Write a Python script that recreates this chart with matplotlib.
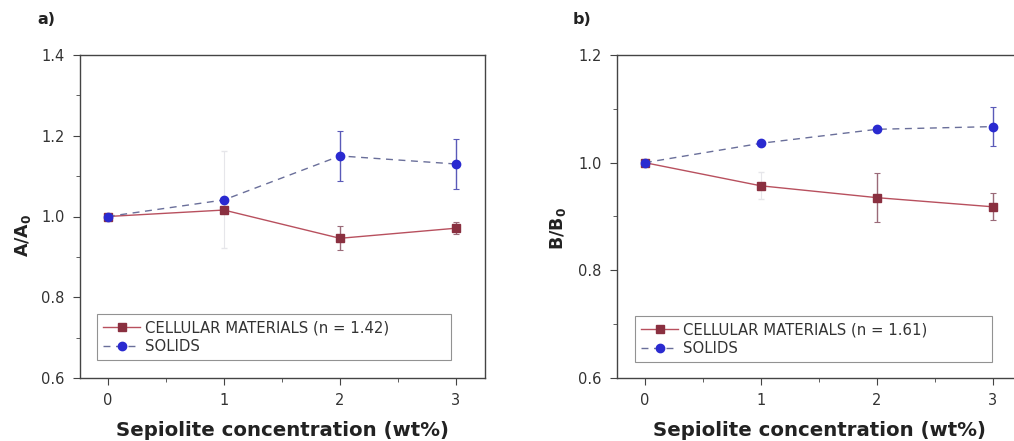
import matplotlib
matplotlib.use("Agg")
import matplotlib.pyplot as plt
from matplotlib.ticker import MultipleLocator, FormatStrFormatter

plt.rcParams['font.family'] = ['DejaVu Sans']

conc = [0, 1, 2, 3]
xticks = [0, 1, 2, 3]

a_cell = [1.0, 1.016, 0.946, 0.971]
a_cell_err = [0.0, 0.0, 0.03, 0.015]
a_sol = [1.0, 1.041, 1.150, 1.130]
a_sol_err = [0.0, 0.12, 0.063, 0.062]

b_cell = [1.0, 0.957, 0.935, 0.918]
b_cell_err = [0.0, 0.025, 0.045, 0.025]
b_sol = [1.0, 1.036, 1.062, 1.067]
b_sol_err = [0.0, 0.0, 0.0, 0.036]

label_cell_a = "CELLULAR MATERIALS (n = 1.42)"
label_cell_b = "CELLULAR MATERIALS (n = 1.61)"
label_sol = "SOLIDS"

W, H = 1014, 441
fig = plt.figure(figsize=(W / 100, H / 100), dpi=100)

cell_line = '#b8505e'
cell_mark = '#8a3040'
sol_line = '#6a6f9a'
sol_mark = '#2a2ad0'


def px(x0, y0, x1, y1):
    return [x0 / W, 1 - y1 / H, (x1 - x0) / W, (y1 - y0) / H]


def draw_err(ax, x, y, e, faint_idx, color):
    strong = [i for i in range(len(x)) if e[i] > 0 and i not in faint_idx]
    faint = [i for i in range(len(x)) if e[i] > 0 and i in faint_idx]
    if strong:
        ax.errorbar([x[i] for i in strong], [y[i] for i in strong], yerr=[e[i] for i in strong],
                    fmt='none', ecolor=color, elinewidth=1.0, capsize=2.5, capthick=0.8, zorder=2)
    if faint:
        ax.errorbar([x[i] for i in faint], [y[i] for i in faint], yerr=[e[i] for i in faint],
                    fmt='none', ecolor='#e6e6ea', elinewidth=0.8, capsize=2.5, capthick=1.0, zorder=1)


def panel(rect, cell, cell_err, cell_faint, sol, sol_err, sol_faint, ylim, ylabel, ylab_xy,
          leg_label, leg_box, tag, tagx):
    ax = fig.add_axes(rect)
    draw_err(ax, conc, cell, cell_err, cell_faint, '#9a6a78')
    draw_err(ax, conc, sol, sol_err, sol_faint, '#5a5ab8')
    ax.plot(conc, cell, color=cell_line, lw=1.0, marker='s', ms=5.5,
            mfc=cell_mark, mec=cell_mark, label=leg_label, zorder=3)
    ax.plot(conc, sol, color=sol_line, lw=1.0, ls=(0, (5, 4)), marker='o', ms=6,
            mfc=sol_mark, mec=sol_mark, label=label_sol, zorder=4)
    ax.set_xlim(-0.24, 3.25)
    ax.set_ylim(*ylim)
    ax.set_xticks(xticks)
    ax.set_yticks([v / 10 for v in range(int(round(ylim[0] * 10)), int(round(ylim[1] * 10)) + 1, 2)])
    ax.xaxis.set_minor_locator(MultipleLocator(0.5))
    ax.yaxis.set_minor_locator(MultipleLocator(0.1))
    ax.yaxis.set_major_formatter(FormatStrFormatter('%.1f'))
    ax.tick_params(which='both', direction='out', top=False, right=False, color='#444444')
    ax.tick_params(which='major', length=5, labelsize=10.5, labelcolor='#333333', pad=6)
    ax.tick_params(which='minor', length=3)
    for s in ax.spines.values():
        s.set_color('#444444')
        s.set_linewidth(1.0)
    ax.set_xlabel('Sepiolite concentration (wt%)', fontsize=14.2, fontweight='bold',
                  color='#222222', labelpad=9)
    ax.set_ylabel(ylabel, fontsize=12.5, fontweight='bold', color='#222222')
    ax.yaxis.set_label_coords(*ylab_xy)
    x0, y0, x1, y1 = leg_box
    bb = ax.transAxes.inverted().transform(fig.transFigure.transform(
        [(x0 / W, 1 - y1 / H), (x1 / W, 1 - y0 / H)]))
    leg = ax.legend(loc='lower left',
                    bbox_to_anchor=(bb[0][0], bb[0][1], bb[1][0] - bb[0][0], bb[1][1] - bb[0][1]),
                    mode='expand', fontsize=10.7, frameon=True, fancybox=False,
                    edgecolor='#777777', borderaxespad=0, handlelength=2.5,
                    handletextpad=0.35, labelspacing=0.25, borderpad=0.4)
    leg.get_frame().set_linewidth(0.8)
    for t in leg.get_texts():
        t.set_color('#333333')
    fig.text(tagx / W, 1 - 20 / H, tag, fontsize=11.5, fontweight='bold', va='center', color='#222222')
    return ax


panel(px(80, 55, 485, 378), a_cell, a_cell_err, [], a_sol, a_sol_err, [1], (0.6, 1.4),
      'A/A$_\\mathbf{0}$', (-0.115, 0.443), label_cell_a, (97, 308, 451, 360), 'a)', 37)
panel(px(617, 55, 1022, 378), b_cell, b_cell_err, [1], b_sol, b_sol_err, [], (0.6, 1.2),
      'B/B$_\\mathbf{0}$', (-0.121, 0.464), label_cell_b, (635, 310, 992, 362), 'b)', 573)

fig.savefig('out.png', dpi=100)
